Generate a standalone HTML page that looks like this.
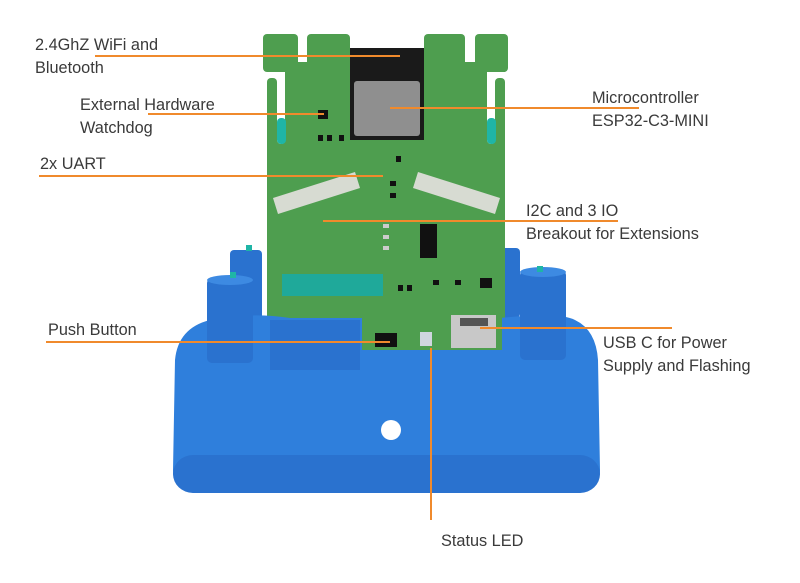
<!DOCTYPE html>
<html><head><meta charset="utf-8"><style>
html,body{margin:0;padding:0;background:#fff;}
svg{display:block}
text{font-family:"Liberation Sans",sans-serif;font-size:16.3px;fill:#3a3a3a}
</style></head><body>
<svg width="800" height="583" viewBox="0 0 800 583" xmlns="http://www.w3.org/2000/svg">
<!-- back pillars -->
<rect x="230" y="250" width="32" height="70" rx="4" fill="#2a72cf"/>
<rect x="500" y="248" width="20" height="70" rx="4" fill="#2a72cf"/>
<!-- PCB -->
<g fill="#4e9e4f">
<rect x="263" y="34" width="35" height="38" rx="4"/>
<rect x="307" y="34" width="43" height="38" rx="4"/>
<rect x="424" y="34" width="41" height="38" rx="4"/>
<rect x="475" y="34" width="33" height="38" rx="4"/>
<rect x="290" y="55" width="190" height="20"/>
<rect x="267" y="66" width="238" height="282"/>
</g>
<rect x="298" y="34" width="9" height="28" fill="#fff"/>
<rect x="465" y="34" width="10" height="28" fill="#fff"/>
<rect x="263" y="72" width="4" height="12" fill="#fff"/>
<rect x="505" y="72" width="3" height="12" fill="#fff"/>
<rect x="267" y="72" width="238" height="10" fill="#fff"/>
<rect x="277" y="78" width="8" height="66" rx="4" fill="#fff"/>
<rect x="487" y="78" width="8" height="66" rx="4" fill="#fff"/>
<rect x="267" y="78" width="10" height="70" rx="4" fill="#4e9e4f"/>
<rect x="495" y="78" width="10" height="70" rx="4" fill="#4e9e4f"/>
<rect x="285" y="78" width="202" height="270" rx="4" fill="#4e9e4f"/>
<rect x="277" y="118" width="9" height="26" rx="4" fill="#1fb5a6"/>
<rect x="487" y="118" width="9" height="26" rx="4" fill="#1fb5a6"/>
<rect x="285" y="66" width="202" height="20" fill="#4e9e4f"/>
<!-- module -->
<rect x="350" y="48" width="74" height="92" fill="#1a1a1a"/>
<rect x="354" y="81" width="66" height="55" rx="3" fill="#8f8f8f"/>
<!-- small parts -->
<rect x="318" y="110" width="10" height="9" fill="#111"/>
<rect x="318" y="135" width="5" height="6" fill="#111"/><rect x="327" y="135" width="5" height="6" fill="#111"/><rect x="339" y="135" width="5" height="6" fill="#111"/>
<rect x="396" y="156" width="5" height="6" fill="#111"/>
<rect x="390" y="181" width="6" height="5" fill="#111"/><rect x="390" y="193" width="6" height="5" fill="#111"/>
<!-- connectors -->
<polygon points="273,198 355,172 360,188 278,214" fill="#d7dbd2"/>
<polygon points="418,172 500,198 495,214 413,188" fill="#d7dbd2"/>
<!-- regulator -->
<rect x="420" y="224" width="17" height="34" fill="#111"/>
<rect x="383" y="224" width="6" height="4" fill="#ccc"/><rect x="383" y="235" width="6" height="4" fill="#ccc"/><rect x="383" y="246" width="6" height="4" fill="#ccc"/>
<!-- teal strip -->
<rect x="282" y="274" width="101" height="22" fill="#1fa99a"/>
<rect x="398" y="285" width="5" height="6" fill="#111"/><rect x="407" y="285" width="5" height="6" fill="#111"/>
<rect x="433" y="280" width="6" height="5" fill="#111"/><rect x="455" y="280" width="6" height="5" fill="#111"/>
<rect x="480" y="278" width="12" height="10" fill="#111"/>
<!-- blue base -->
<path d="M210,320 Q250,312 290,318 L500,318 Q560,312 575,320 Q596,330 598,360 L600,470 Q600,493 575,493 L198,493 Q173,493 173,470 L175,360 Q178,328 210,320 Z" fill="#2f7fdc"/>
<rect x="173" y="455" width="427" height="38" rx="20" fill="#2a72cf"/>
<!-- front pillars -->
<rect x="207" y="278" width="46" height="85" rx="5" fill="#2a72cf"/>
<ellipse cx="230" cy="280" rx="23" ry="5" fill="#3d8ae2"/>
<rect x="520" y="270" width="46" height="90" rx="5" fill="#2a72cf"/>
<ellipse cx="543" cy="272" rx="23" ry="5" fill="#3d8ae2"/>
<rect x="270" y="320" width="90" height="50" fill="#2a72cf"/>
<rect x="230" y="272" width="6" height="6" fill="#1fb5a6"/><rect x="537" y="266" width="6" height="6" fill="#1fb5a6"/>
<rect x="246" y="245" width="6" height="6" fill="#1fb5a6"/>
<!-- lower board area parts -->
<rect x="362" y="310" width="140" height="40" fill="#4e9e4f"/>
<rect x="375" y="333" width="22" height="14" fill="#111"/>
<rect x="420" y="332" width="12" height="14" fill="#cfd6df"/>
<rect x="451" y="315" width="45" height="33" fill="#c8c8c8"/>
<rect x="460" y="318" width="28" height="8" fill="#555"/>
<circle cx="391" cy="430" r="10" fill="#fff"/>
<!-- leader lines -->
<g stroke="#f08a2c" stroke-width="2" fill="none">
<line x1="95" y1="56" x2="400" y2="56"/>
<line x1="148" y1="114" x2="324" y2="114"/>
<line x1="39" y1="176" x2="383" y2="176"/>
<line x1="46" y1="342" x2="390" y2="342"/>
<line x1="390" y1="108" x2="639" y2="108"/>
<line x1="323" y1="221" x2="618" y2="221"/>
<line x1="480" y1="328" x2="672" y2="328"/>
<line x1="431" y1="348" x2="431" y2="520"/>
</g>
<text x="35" y="50">2.4GhZ WiFi and</text>
<text x="35" y="73">Bluetooth</text>
<text x="80" y="110">External Hardware</text>
<text x="80" y="133">Watchdog</text>
<text x="40" y="169">2x UART</text>
<text x="48" y="335">Push Button</text>
<text x="592" y="103">Microcontroller</text>
<text x="592" y="126">ESP32-C3-MINI</text>
<text x="526" y="216">I2C and 3 IO</text>
<text x="526" y="239">Breakout for Extensions</text>
<text x="603" y="348">USB C for Power</text>
<text x="603" y="371">Supply and Flashing</text>
<text x="441" y="546">Status LED</text>
</svg>
</body></html>
